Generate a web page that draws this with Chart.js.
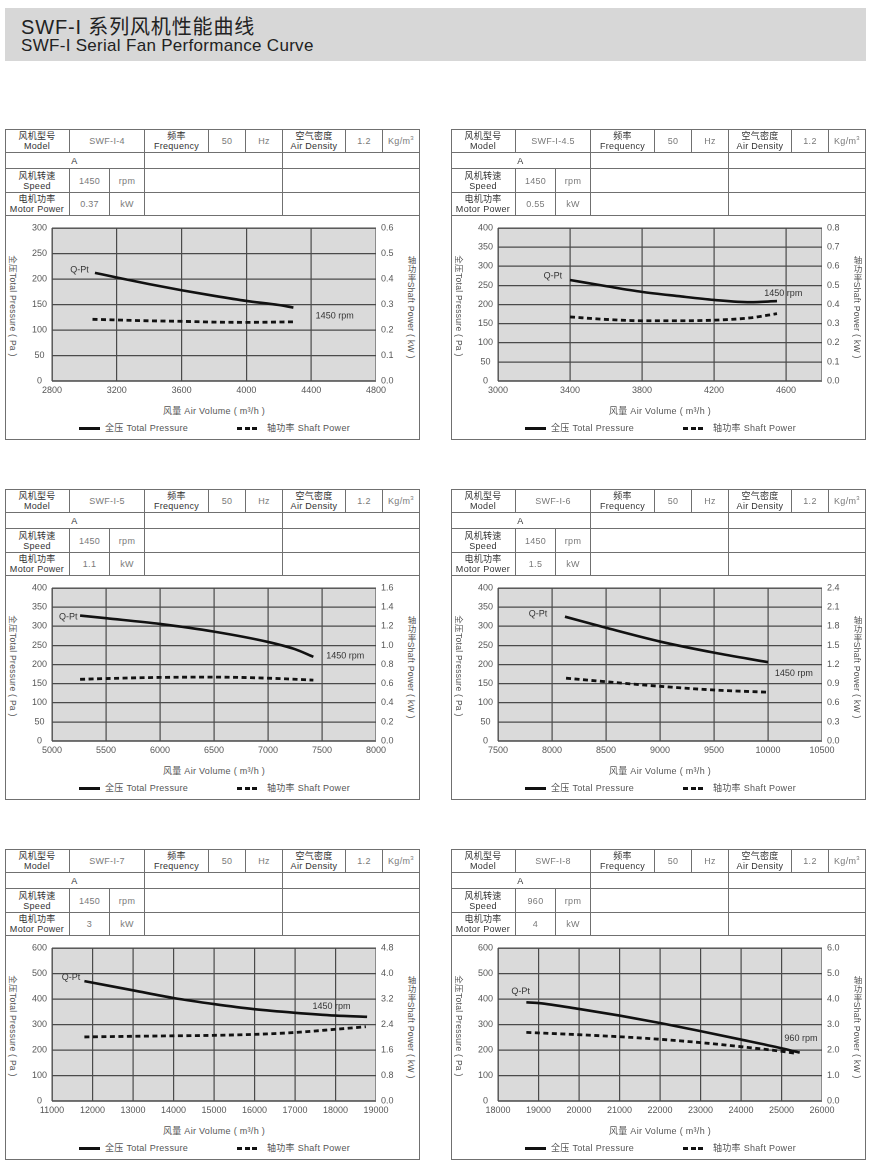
<!DOCTYPE html>
<html><head><meta charset="utf-8">
<script src="https://cdn.jsdelivr.net/npm/chart.js@4.4.0/dist/chart.umd.min.js"></script>
<style>
body{margin:0;background:#fff;width:870px;height:1169px;position:relative;overflow:hidden;font-family:"Liberation Sans",Arial,"Noto Sans CJK SC",sans-serif;}
#band{position:absolute;left:5px;top:8px;width:861px;height:53px;background:#d7d7d7;}
#t1{position:absolute;left:21px;top:15px;font-size:20px;line-height:24px;color:#222;letter-spacing:0.85px;white-space:nowrap;}
#t2{position:absolute;left:21px;top:36px;font-size:17px;line-height:20px;color:#222;letter-spacing:0.3px;white-space:nowrap;}
.panel{position:absolute;width:415px;height:311px;}
.frame{position:absolute;left:0;top:0;width:415px;height:311px;box-sizing:border-box;border:1px solid #707070;pointer-events:none;}
.cell{position:absolute;box-sizing:border-box;border-right:1px solid #707070;border-bottom:1px solid #707070;display:flex;align-items:center;justify-content:center;text-align:center;font-size:9px;line-height:10px;color:#333;letter-spacing:0.3px;white-space:nowrap;}
.cell.v{color:#7a7a7a;}
.sup{font-size:6px;position:relative;top:-3px;}
canvas{position:absolute;left:0;top:87px;}
.ttl{position:absolute;transform:translate(-50%,-50%);font-size:8.5px;color:#555;white-space:nowrap;letter-spacing:0.3px;}
.xt{font-size:9px;}
.yl{writing-mode:vertical-rl;text-orientation:sideways;}
.yr{writing-mode:vertical-rl;text-orientation:mixed;}
.leg{position:absolute;font-size:9px;color:#555;white-space:nowrap;letter-spacing:0.3px;line-height:10px;}
.ls{position:absolute;height:3px;background:#111;}
</style>
</head><body>
<div id="band"></div>
<div id="t1">SWF-I 系列风机性能曲线</div>
<div id="t2">SWF-I Serial Fan Performance Curve</div>
<script>
// ---------- Panel 1: SWF-I-4 ----------
const p1Table = ['SWF-I-4', '1450', '0.37'];
const p1XTicks = [2800, 3200, 3600, 4000, 4400, 4800];
const p1YAxis = [0, 300, 50];
const p1Y2Axis = [0, 0.6, 0.1];
const p1PressQ = [3065, 3200, 3400, 3600, 3800, 4000, 4200, 4290];
const p1PressPa = [212, 203, 190, 178, 167, 157, 149, 144];
const p1PowQ = [3050, 3400, 3600, 3800, 4000, 4290];
const p1PowKW = [0.242, 0.236, 0.234, 0.231, 0.230, 0.232];
const p1QptAt = [2970, 218];
const p1RpmAt = [4545, 127];
const p1RpmText = '1450 rpm';

// ---------- Panel 2: SWF-I-4.5 ----------
const p2Table = ['SWF-I-4.5', '1450', '0.55'];
const p2XTicks = [3000, 3400, 3800, 4200, 4600];
const p2XMax = 4800;
const p2YAxis = [0, 400, 50];
const p2Y2Axis = [0, 0.8, 0.1];
const p2PressQ = [3400, 3600, 3800, 4000, 4200, 4400, 4550];
const p2PressPa = [264, 248, 233, 222, 212, 206, 209];
const p2PowQ = [3400, 3600, 3800, 4000, 4200, 4400, 4550];
const p2PowKW = [0.335, 0.322, 0.315, 0.315, 0.318, 0.330, 0.352];
const p2QptAt = [3305, 275];
const p2RpmAt = [4585, 229];
const p2RpmText = '1450 rpm';

// ---------- Panel 3: SWF-I-5 ----------
const p3Table = ['SWF-I-5', '1450', '1.1'];
const p3XTicks = [5000, 5500, 6000, 6500, 7000, 7500, 8000];
const p3YAxis = [0, 400, 50];
const p3Y2Axis = [0, 1.6, 0.2];
const p3PressQ = [5260, 5500, 6000, 6500, 7000, 7250, 7420];
const p3PressPa = [328, 321, 306, 286, 259, 240, 220];
const p3PowQ = [5260, 5500, 6000, 6500, 7000, 7420];
const p3PowKW = [0.645, 0.653, 0.665, 0.668, 0.657, 0.637];
const p3QptAt = [5150, 324];
const p3RpmAt = [7715, 222];
const p3RpmText = '1450 rpm';

// ---------- Panel 4: SWF-I-6 ----------
const p4Table = ['SWF-I-6', '1450', '1.5'];
const p4XTicks = [7500, 8000, 8500, 9000, 9500, 10000, 10500];
const p4YAxis = [0, 400, 50];
const p4Y2Axis = [0, 2.4, 0.3];
const p4PressQ = [8120, 8500, 9000, 9500, 10000];
const p4PressPa = [325, 296, 260, 231, 206];
const p4PowQ = [8130, 8500, 9000, 9500, 10000];
const p4PowKW = [0.985, 0.93, 0.858, 0.80, 0.765];
const p4QptAt = [7870, 332];
const p4RpmAt = [10240, 177];
const p4RpmText = '1450 rpm';

// ---------- Panel 5: SWF-I-7 ----------
const p5Table = ['SWF-I-7', '1450', '3'];
const p5XTicks = [11000, 12000, 13000, 14000, 15000, 16000, 17000, 18000, 19000];
const p5YAxis = [0, 600, 100];
const p5Y2Axis = [0, 4.8, 0.8];
const p5PressQ = [11800, 13000, 14000, 15000, 16000, 17000, 18000, 18780];
const p5PressPa = [470, 434, 404, 380, 360, 346, 335, 330];
const p5PowQ = [11800, 13000, 14000, 15000, 16000, 17000, 18000, 18750];
const p5PowKW = [2.01, 2.03, 2.045, 2.06, 2.09, 2.15, 2.25, 2.33];
const p5QptAt = [11470, 485];
const p5RpmAt = [17900, 370];
const p5RpmText = '1450 rpm';

// ---------- Panel 6: SWF-I-8 ----------
const p6Table = ['SWF-I-8', '960', '4'];
const p6XTicks = [18000, 19000, 20000, 21000, 22000, 23000, 24000, 25000, 26000];
const p6YAxis = [0, 600, 100];
const p6Y2Axis = [0, 6.0, 1.0];
const p6PressQ = [18700, 19000, 20000, 21000, 22000, 23000, 24000, 25000, 25450];
const p6PressPa = [387, 384, 361, 335, 306, 274, 241, 207, 190];
const p6PowQ = [18700, 20000, 21000, 22000, 23000, 24000, 25000, 25350];
const p6PowKW = [2.69, 2.60, 2.52, 2.42, 2.29, 2.13, 1.95, 1.87];
const p6QptAt = [18560, 429];
const p6RpmAt = [25480, 246];
const p6RpmText = '960 rpm';

const panels = [
  {pos:[5,129], table:p1Table, xTicks:p1XTicks, xMax:p1XTicks[p1XTicks.length-1], yAxis:p1YAxis, y2Axis:p1Y2Axis, pq:p1PressQ, pp:p1PressPa, wq:p1PowQ, wk:p1PowKW, qpt:p1QptAt, rpm:p1RpmAt, rpmText:p1RpmText},
  {pos:[451,129], table:p2Table, xTicks:p2XTicks, xMax:p2XMax, yAxis:p2YAxis, y2Axis:p2Y2Axis, pq:p2PressQ, pp:p2PressPa, wq:p2PowQ, wk:p2PowKW, qpt:p2QptAt, rpm:p2RpmAt, rpmText:p2RpmText},
  {pos:[5,489], table:p3Table, xTicks:p3XTicks, xMax:p3XTicks[p3XTicks.length-1], yAxis:p3YAxis, y2Axis:p3Y2Axis, pq:p3PressQ, pp:p3PressPa, wq:p3PowQ, wk:p3PowKW, qpt:p3QptAt, rpm:p3RpmAt, rpmText:p3RpmText},
  {pos:[451,489], table:p4Table, xTicks:p4XTicks, xMax:p4XTicks[p4XTicks.length-1], yAxis:p4YAxis, y2Axis:p4Y2Axis, pq:p4PressQ, pp:p4PressPa, wq:p4PowQ, wk:p4PowKW, qpt:p4QptAt, rpm:p4RpmAt, rpmText:p4RpmText},
  {pos:[5,849], table:p5Table, xTicks:p5XTicks, xMax:p5XTicks[p5XTicks.length-1], yAxis:p5YAxis, y2Axis:p5Y2Axis, pq:p5PressQ, pp:p5PressPa, wq:p5PowQ, wk:p5PowKW, qpt:p5QptAt, rpm:p5RpmAt, rpmText:p5RpmText},
  {pos:[451,849], table:p6Table, xTicks:p6XTicks, xMax:p6XTicks[p6XTicks.length-1], yAxis:p6YAxis, y2Axis:p6Y2Axis, pq:p6PressQ, pp:p6PressPa, wq:p6PowQ, wk:p6PowKW, qpt:p6QptAt, rpm:p6RpmAt, rpmText:p6RpmText}
];

const FONT = '"Liberation Sans", Arial, sans-serif';
const GRID = '#4a4a4a';

const plotPlugin = {
  id: 'plotDeco',
  beforeDraw(chart) {
    const {ctx, chartArea: a} = chart;
    ctx.save();
    ctx.fillStyle = '#dadada';
    ctx.fillRect(a.left, a.top, a.width, a.height);
    ctx.strokeStyle = '#8c8c8c';
    ctx.lineWidth = 1;
    ctx.strokeRect(a.left + 0.5, a.top + 0.5, a.width - 1, a.height - 1);
    ctx.restore();
  },
  afterDatasetsDraw(chart, args, opts) {
    const {ctx, scales} = chart;
    ctx.save();
    ctx.font = '9px ' + FONT;
    ctx.fillStyle = '#333';
    ctx.textAlign = 'center';
    ctx.textBaseline = 'middle';
    (opts.notes || []).forEach(n => {
      ctx.fillText(n.text, scales.x.getPixelForValue(n.at[0]), scales.y.getPixelForValue(n.at[1]));
    });
    ctx.restore();
  }
};

function addCell(parent, x, y, w, h, html, cls) {
  const d = document.createElement('div');
  d.className = 'cell' + (cls ? ' ' + cls : '');
  d.style.left = x + 'px'; d.style.top = y + 'px';
  d.style.width = w + 'px'; d.style.height = h + 'px';
  d.innerHTML = html;
  parent.appendChild(d);
}
function addEl(parent, cls, html, x, y) {
  const d = document.createElement('div');
  d.className = cls;
  d.innerHTML = html;
  d.style.left = x + 'px'; d.style.top = y + 'px';
  parent.appendChild(d);
  return d;
}

panels.forEach(p => {
  const el = document.createElement('div');
  el.className = 'panel';
  el.style.left = p.pos[0] + 'px';
  el.style.top = p.pos[1] + 'px';
  document.body.appendChild(el);

  // table
  addCell(el, 0, 0, 65, 24, '风机型号<br>Model');
  addCell(el, 65, 0, 75, 24, p.table[0], 'v');
  addCell(el, 140, 0, 64, 24, '频率<br>Frequency');
  addCell(el, 204, 0, 37, 24, '50', 'v');
  addCell(el, 241, 0, 37, 24, 'Hz', 'v');
  addCell(el, 278, 0, 63, 24, '空气密度<br>Air Density');
  addCell(el, 341, 0, 37, 24, '1.2', 'v');
  addCell(el, 378, 0, 37, 24, 'Kg/m<span class="sup">3</span>', 'v');
  addCell(el, 0, 24, 140, 16, 'A');
  addCell(el, 140, 24, 138, 16, '');
  addCell(el, 278, 24, 137, 16, '');
  addCell(el, 0, 40, 65, 24, '风机转速<br>Speed');
  addCell(el, 65, 40, 40, 24, p.table[1], 'v');
  addCell(el, 105, 40, 35, 24, 'rpm', 'v');
  addCell(el, 140, 40, 138, 24, '');
  addCell(el, 278, 40, 137, 24, '');
  addCell(el, 0, 64, 65, 23, '电机功率<br>Motor Power');
  addCell(el, 65, 64, 40, 23, p.table[2], 'v');
  addCell(el, 105, 64, 35, 23, 'kW', 'v');
  addCell(el, 140, 64, 138, 23, '');
  addCell(el, 278, 64, 137, 23, '');

  // titles & legend
  addEl(el, 'ttl yl', '全压Total Pressure ( Pa )', 9, 177);
  addEl(el, 'ttl yr', '轴功率Shaft Power ( kW )', 406, 178);
  addEl(el, 'ttl xt', '风量 Air Volume ( m³/h )', 209, 281);
  const s1 = addEl(el, 'ls', '', 74, 298); s1.style.width = '21px';
  addEl(el, 'leg', '全压 Total Pressure', 100, 294);
  [232, 239.5, 247].forEach(x => { const s = addEl(el, 'ls', '', x, 298); s.style.width = '5px'; });
  addEl(el, 'leg', '轴功率 Shaft Power', 262, 294);

  const frame = document.createElement('div');
  frame.className = 'frame';
  el.appendChild(frame);

  const cv = document.createElement('canvas');
  cv.width = 415; cv.height = 185;
  cv.style.width = '415px'; cv.style.height = '185px';
  el.insertBefore(cv, frame);

  const y2Dec = 1;
  new Chart(cv, {
    type: 'line',
    data: {
      datasets: [
        {
          label: '全压 Total Pressure',
          data: p.pq.map((q, i) => ({x: q, y: p.pp[i]})),
          yAxisID: 'y',
          borderColor: '#111', borderWidth: 2.6,
          pointRadius: 0, fill: false,
          cubicInterpolationMode: 'monotone'
        },
        {
          label: '轴功率 Shaft Power',
          data: p.wq.map((q, i) => ({x: q, y: p.wk[i]})),
          yAxisID: 'y2',
          borderColor: '#111', borderWidth: 2.8, borderDash: [5, 3.5],
          pointRadius: 0, fill: false,
          cubicInterpolationMode: 'monotone'
        }
      ]
    },
    options: {
      responsive: false,
      animation: false,
      devicePixelRatio: 2,
      layout: {padding: {top: 12, left: 0, right: 0, bottom: 0}},
      plugins: {
        legend: {display: false},
        tooltip: {enabled: false},
        plotDeco: {notes: [{text: 'Q-Pt', at: p.qpt}, {text: p.rpmText, at: p.rpm}]}
      },
      scales: {
        x: {
          type: 'linear',
          min: p.xTicks[0], max: p.xMax,
          afterBuildTicks: s => { s.ticks = p.xTicks.map(v => ({value: v})); },
          afterFit: s => { s.height = 20; },
          grid: {
            color: c => (c.tick && c.tick.value === p.xMax) ? 'rgba(0,0,0,0)' : GRID,
            lineWidth: 1.2, drawTicks: false
          },
          border: {display: false},
          ticks: {font: {family: FONT, size: 9}, color: '#555', padding: 4, autoSkip: false, maxRotation: 0,
                  callback: v => String(v)}
        },
        y: {
          position: 'left',
          min: p.yAxis[0], max: p.yAxis[1],
          ticks: {stepSize: p.yAxis[2], font: {family: FONT, size: 9}, color: '#555', padding: 5, crossAlign: 'center'},
          afterFit: s => { s.width = 47; },
          grid: {color: GRID, lineWidth: 1.2, drawTicks: false},
          border: {display: false}
        },
        y2: {
          position: 'right',
          min: p.y2Axis[0], max: p.y2Axis[1],
          ticks: {stepSize: p.y2Axis[2], font: {family: FONT, size: 9}, color: '#555', padding: 5,
                  callback: v => Number(v).toFixed(y2Dec)},
          afterFit: s => { s.width = 44; },
          grid: {display: false, drawTicks: false},
          border: {display: false}
        }
      }
    },
    plugins: [plotPlugin]
  });
});
</script>
</body></html>
